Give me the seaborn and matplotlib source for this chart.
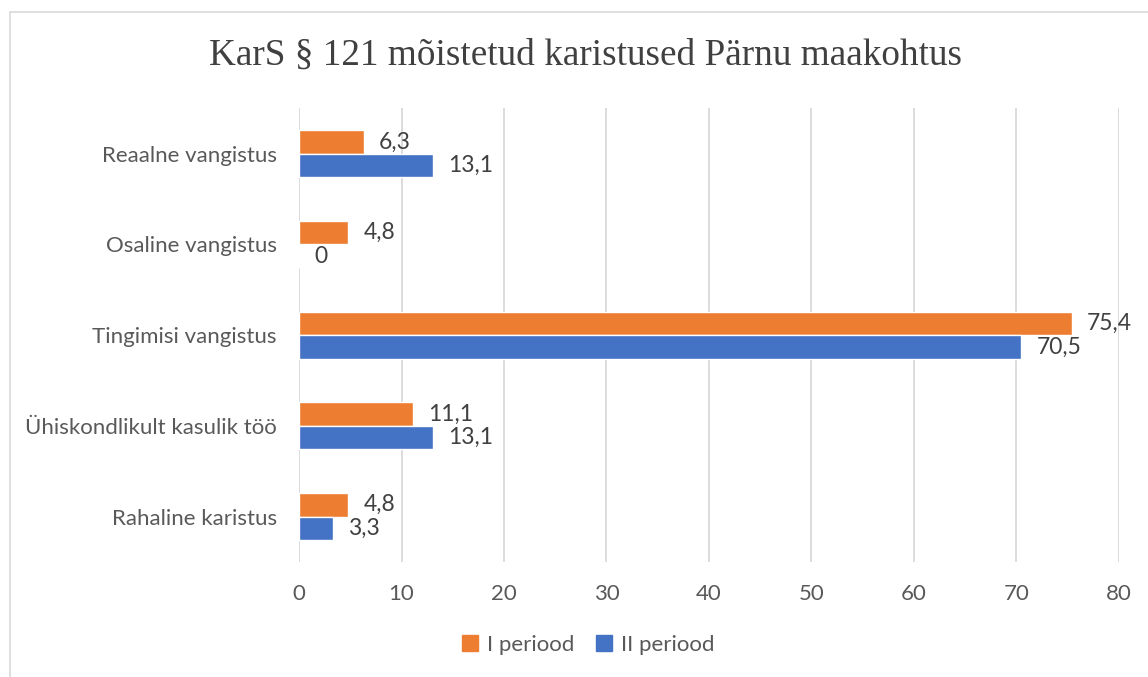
import matplotlib
matplotlib.use("Agg")
import numpy as np
import pandas as pd
import seaborn as sns
from matplotlib import pyplot as plt
from matplotlib.lines import Line2D

sns.set_style("white")
plt.rcParams['font.family'] = ['Lato', 'DejaVu Sans']

# data
categories = ['Reaalne vangistus', 'Osaline vangistus', 'Tingimisi vangistus',
              'Ühiskondlikult kasulik töö', 'Rahaline karistus']
periood_1 = [6.3, 4.8, 75.4, 11.1, 4.8]
periood_2 = [13.1, 0.0, 70.5, 13.1, 3.3]
series_names = ['I periood', 'II periood']
x_ticks = [0, 10, 20, 30, 40, 50, 60, 70, 80]

orange = '#ED7D31'
blue = '#4472C4'
text_grey = '#595959'
grid_grey = '#D9D9D9'

df = pd.DataFrame({
    'kategooria': categories * 2,
    'vaartus': periood_1 + periood_2,
    'periood': [series_names[0]] * len(categories) + [series_names[1]] * len(categories),
})

fig = plt.figure(figsize=(11.48, 6.77), dpi=100)
ax = fig.add_axes([0.2605, 0.170, 0.714, 0.670])

sns.barplot(data=df, y='kategooria', x='vaartus', hue='periood', order=categories,
            hue_order=series_names, palette=[orange, blue], orient='h',
            width=0.52, saturation=1, legend=False, ax=ax)

for cont in ax.containers:
    ax.bar_label(cont, labels=[f'{b.get_width():.1f}'.replace('.', ',').replace('0,0', '0')
                               for b in cont],
                 padding=11, fontsize=16.5, color='#404040')

ax.set_xlim(0, 80)
ax.set_xticks(x_ticks)
ax.set_ylim(len(categories) - 0.5, -0.5)
ax.grid(axis='x', color=grid_grey, linewidth=1.3)
ax.set_axisbelow(True)
for s in ax.spines.values():
    s.set_visible(False)
ax.tick_params(axis='both', length=0, labelsize=16, labelcolor=text_grey)
ax.tick_params(axis='x', pad=16)
ax.tick_params(axis='y', pad=16)
ax.set_xlabel('')
ax.set_ylabel('')

fig.text(0.51, 1 - 55 / 677, 'KarS § 121 mõistetud karistused Pärnu maakohtus',
         ha='center', va='center', fontsize=26.8, color='#404040', family='Liberation Serif')

handles = [plt.Rectangle((0, 0), 1, 1, color=orange), plt.Rectangle((0, 0), 1, 1, color=blue)]
fig.legend(handles, series_names, loc='center', bbox_to_anchor=(0.5125, 1 - 645 / 677),
           ncol=2, frameon=False, fontsize=16, labelcolor=text_grey,
           handlelength=0.7, handleheight=0.7, handletextpad=0.4, columnspacing=1.0)

# chart frame (top and left edges visible)
fig.add_artist(Line2D([10 / 1148, 1.0], [1 - 12 / 677, 1 - 12 / 677], color=grid_grey, lw=1.2))
fig.add_artist(Line2D([10 / 1148, 10 / 1148], [0, 1 - 12 / 677], color=grid_grey, lw=1.2))

fig.savefig('out.png', dpi=100)
plt.close(fig)
